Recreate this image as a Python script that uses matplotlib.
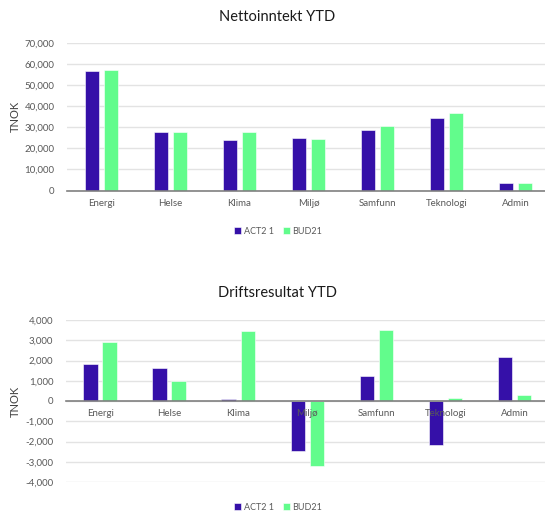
import numpy as np
import matplotlib
matplotlib.use("Agg")
import matplotlib.pyplot as plt
from matplotlib.ticker import FuncFormatter

plt.rcParams['font.family'] = ['Lato', 'DejaVu Sans']

categories = ["Energi", "Helse", "Klima", "Miljø", "Samfunn", "Teknologi", "Admin"]
series_names = ["ACT2 1", "BUD21"]

netto_act = [56700, 27700, 23900, 25100, 28700, 34500, 3400]
netto_bud = [57200, 27700, 27700, 24400, 30800, 37000, 3400]

drift_act = [1830, 1650, 80, -2480, 1230, -2150, 2170]
drift_bud = [2900, 980, 3440, -3220, 3510, 150, 280]

act_color = "#3510A8"
bud_color = "#62FC8C"
grid_color = "#E3E3E3"
axis_color = "#808080"
text_color = "#595959"

W, H = 545, 514
fig = plt.figure(figsize=(W / 100, H / 100), dpi=100)


def px_axes(left, top, right, bottom):
    return fig.add_axes([left / W, 1 - bottom / H, (right - left) / W, (bottom - top) / H])


def draw(ax, act, bud, ylim, step, title, title_y, legend_y, ylabel_y):
    x = np.arange(len(categories))
    w = 0.212
    off = 0.138
    ax.bar(x - off, act, w, color=act_color, edgecolor="white", linewidth=0.4,
           label=series_names[0], zorder=3)
    ax.bar(x + off, bud, w, color=bud_color, edgecolor="white", linewidth=0.4,
           label=series_names[1], zorder=3)
    ax.set_xlim(-0.5, len(categories) - 0.5)
    ax.set_ylim(*ylim)
    ax.set_yticks(np.arange(ylim[0], ylim[1] + 1, step))
    ax.yaxis.set_major_formatter(FuncFormatter(lambda v, p: f"{int(v):,}"))
    ax.grid(axis="y", color=grid_color, linewidth=1.0)
    ax.set_axisbelow(True)
    # category labels sit on top of the bars, like in Excel
    ax.xaxis.set_zorder(5)
    for s in ["top", "right", "left"]:
        ax.spines[s].set_visible(False)
    ax.spines["bottom"].set_position(("data", 0))
    ax.spines["bottom"].set_color(axis_color)
    ax.spines["bottom"].set_linewidth(1.2)
    ax.spines["bottom"].set_zorder(4)
    ax.set_xticks(x)
    ax.set_xticklabels(categories)
    ax.tick_params(axis="x", length=0, pad=6, labelsize=7, labelcolor=text_color)
    ax.tick_params(axis="y", length=0, pad=9, labelsize=7, labelcolor=text_color)
    fig.text(277 / W, 1 - title_y / H, title, ha="center", va="center",
             fontsize=10.5, color="#1a1a1a")
    fig.text(15 / W, 1 - ylabel_y / H, "TNOK", ha="center", va="center",
             rotation=90, fontsize=8, color="#404040")
    handles, labels = ax.get_legend_handles_labels()
    fig.legend(handles, labels, loc="center", bbox_to_anchor=(278 / W, 1 - legend_y / H),
               ncol=2, frameon=False, fontsize=6.5, handlelength=0.8, handleheight=0.8,
               handletextpad=0.3, columnspacing=1.0, labelcolor=text_color)


ax1 = px_axes(67, 43, 550, 190.5)
draw(ax1, netto_act, netto_bud, (0, 70000), 10000, "Nettoinntekt YTD", 17, 231, 116)

ax2 = px_axes(65.7, 320, 549, 482)
draw(ax2, drift_act, drift_bud, (-4000, 4000), 1000, "Driftsresultat YTD", 293, 507, 401)

fig.savefig("out.png", dpi=100)
